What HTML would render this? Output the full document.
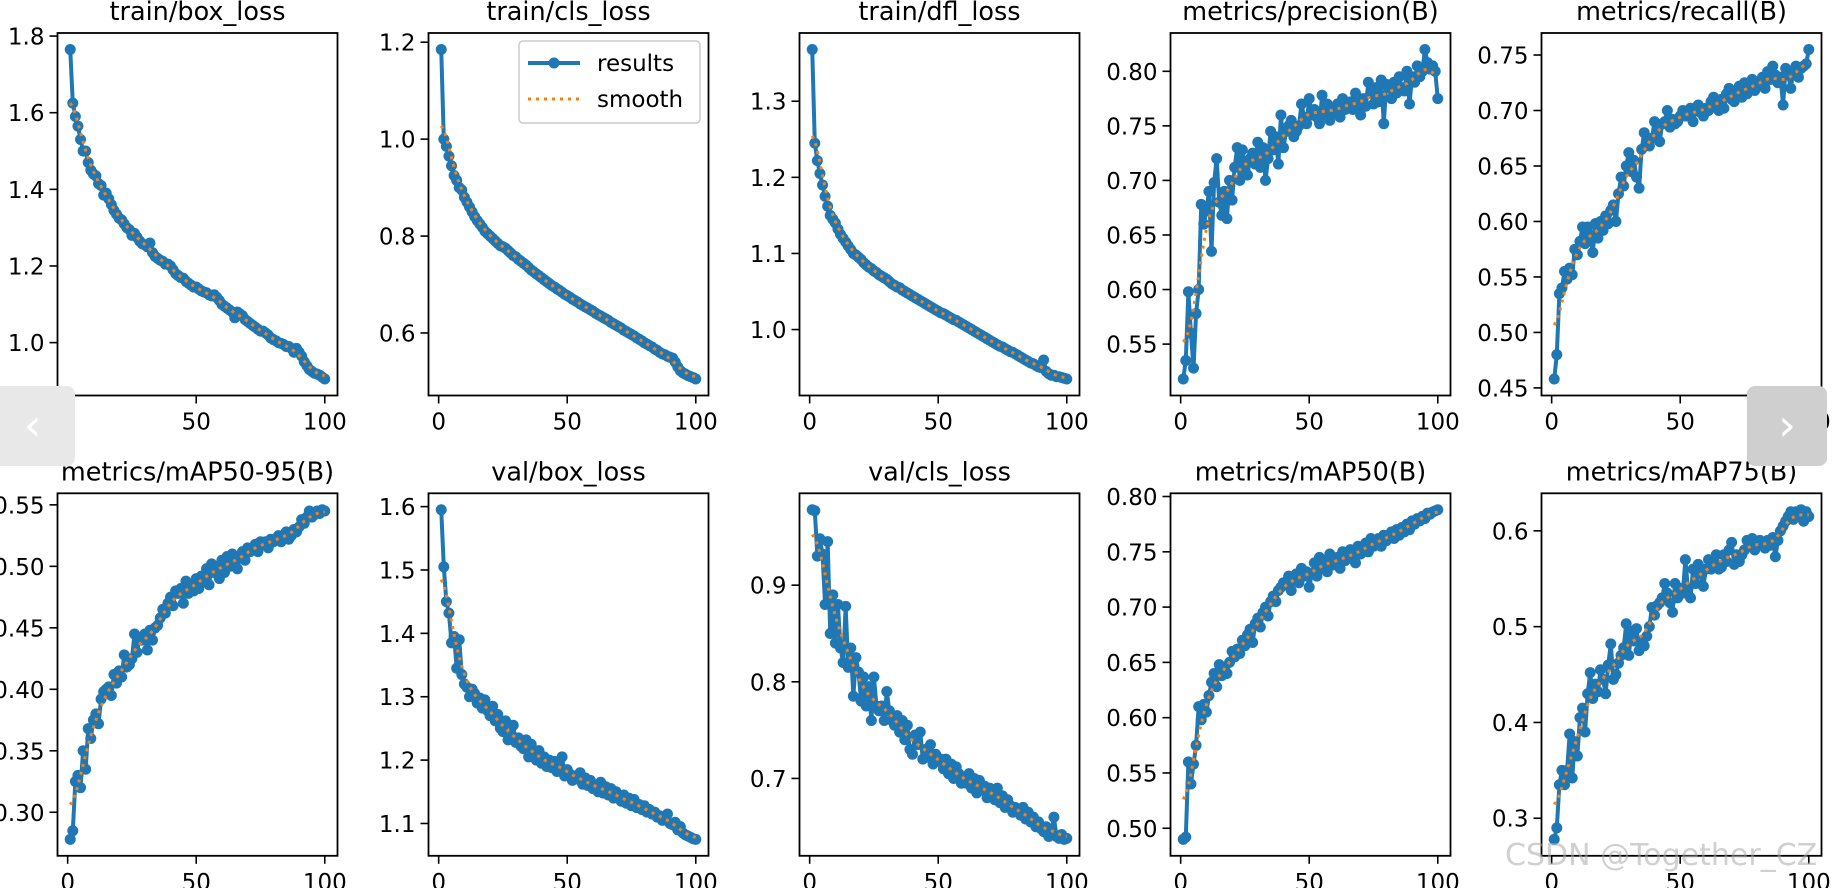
<!DOCTYPE html>
<html><head><meta charset="utf-8"><style>
html,body{margin:0;padding:0;background:#fff;width:1836px;height:888px;overflow:hidden;position:relative}
svg{position:absolute;left:0;top:0}
.nav{position:absolute;border-radius:8px;color:#fff;font:44px "DejaVu Sans",sans-serif;text-align:center;line-height:80px}
.wm{position:absolute;left:1505px;top:838px;font:30px "DejaVu Sans",sans-serif;color:rgba(170,170,170,0.55);white-space:nowrap}
</style></head><body>
<svg id="fig" width="1836" height="888" xmlns="http://www.w3.org/2000/svg"></svg>
<div class="nav" style="left:-10px;top:386px;width:85px;height:80px;background:#e8e8e8">‹</div>
<div class="nav" style="left:1747px;top:386px;width:80px;height:80px;background:#cfcfcf">›</div>
<div class="wm">CSDN @Together_CZ</div>
<script>
const titles=["train/box_loss","train/cls_loss","train/dfl_loss","metrics/precision(B)","metrics/recall(B)","metrics/mAP50-95(B)","val/box_loss","val/cls_loss","metrics/mAP50(B)","metrics/mAP75(B)"];
const xTicks=[0,50,100];
const yTicks=[[1.0,1.2,1.4,1.6,1.8],[0.6,0.8,1.0,1.2],[1.0,1.1,1.2,1.3],[0.55,0.60,0.65,0.70,0.75,0.80],[0.45,0.50,0.55,0.60,0.65,0.70,0.75],[0.30,0.35,0.40,0.45,0.50,0.55],[1.1,1.2,1.3,1.4,1.5,1.6],[0.7,0.8,0.9],[0.50,0.55,0.60,0.65,0.70,0.75,0.80],[0.3,0.4,0.5,0.6]];
const yDecimals=[1,1,1,2,2,2,1,1,2,1];
const trainBox=[1.765,1.625,1.590,1.565,1.530,1.500,1.500,1.470,1.450,1.440,1.435,1.415,1.410,1.385,1.390,1.375,1.360,1.345,1.335,1.325,1.320,1.310,1.300,1.295,1.280,1.285,1.275,1.265,1.258,1.255,1.250,1.260,1.235,1.225,1.220,1.215,1.212,1.205,1.205,1.200,1.190,1.180,1.175,1.170,1.168,1.160,1.155,1.150,1.145,1.145,1.140,1.135,1.132,1.130,1.125,1.122,1.125,1.118,1.110,1.100,1.095,1.090,1.085,1.080,1.065,1.080,1.075,1.070,1.060,1.055,1.050,1.045,1.040,1.035,1.030,1.030,1.025,1.020,1.012,1.008,1.005,1.000,0.998,0.995,0.990,0.990,0.985,0.975,0.985,0.975,0.965,0.950,0.940,0.930,0.925,0.920,0.918,0.915,0.910,0.905];
const trainCls=[1.185,1.000,0.985,0.965,0.945,0.925,0.915,0.900,0.895,0.880,0.870,0.860,0.850,0.840,0.832,0.825,0.818,0.810,0.805,0.800,0.795,0.790,0.785,0.780,0.778,0.775,0.770,0.765,0.760,0.757,0.752,0.748,0.744,0.740,0.735,0.730,0.726,0.722,0.718,0.714,0.710,0.706,0.702,0.698,0.695,0.691,0.688,0.684,0.680,0.677,0.674,0.670,0.667,0.664,0.660,0.657,0.654,0.651,0.648,0.645,0.641,0.638,0.635,0.632,0.629,0.626,0.622,0.619,0.616,0.613,0.610,0.606,0.603,0.600,0.597,0.594,0.590,0.587,0.584,0.580,0.577,0.574,0.571,0.567,0.564,0.560,0.557,0.555,0.552,0.550,0.548,0.540,0.530,0.522,0.518,0.515,0.512,0.510,0.508,0.505];
const trainDfl=[1.368,1.245,1.222,1.205,1.190,1.175,1.162,1.150,1.145,1.140,1.132,1.125,1.120,1.115,1.110,1.105,1.100,1.098,1.095,1.092,1.088,1.085,1.082,1.080,1.077,1.075,1.072,1.070,1.068,1.066,1.063,1.060,1.058,1.056,1.055,1.052,1.050,1.048,1.046,1.044,1.042,1.040,1.038,1.036,1.034,1.032,1.030,1.028,1.026,1.024,1.022,1.021,1.019,1.017,1.015,1.013,1.012,1.010,1.008,1.006,1.004,1.002,1.000,0.998,0.996,0.994,0.992,0.990,0.988,0.986,0.984,0.982,0.980,0.978,0.977,0.975,0.973,0.971,0.970,0.968,0.966,0.964,0.962,0.960,0.958,0.956,0.955,0.953,0.951,0.950,0.960,0.945,0.942,0.940,0.940,0.938,0.938,0.937,0.936,0.935];
const precision=[0.518,0.535,0.598,0.560,0.528,0.578,0.600,0.678,0.660,0.672,0.690,0.635,0.698,0.720,0.680,0.668,0.690,0.665,0.700,0.682,0.712,0.730,0.700,0.728,0.712,0.705,0.720,0.725,0.715,0.735,0.712,0.730,0.700,0.720,0.745,0.728,0.740,0.715,0.760,0.730,0.745,0.750,0.755,0.740,0.745,0.750,0.770,0.758,0.752,0.775,0.760,0.765,0.758,0.752,0.778,0.760,0.770,0.755,0.765,0.762,0.770,0.758,0.775,0.765,0.770,0.772,0.765,0.780,0.770,0.760,0.775,0.768,0.790,0.780,0.770,0.785,0.772,0.792,0.752,0.788,0.785,0.775,0.790,0.780,0.795,0.785,0.782,0.800,0.770,0.795,0.790,0.805,0.795,0.800,0.820,0.808,0.802,0.805,0.800,0.775];
const recall=[0.458,0.480,0.535,0.540,0.555,0.548,0.558,0.552,0.575,0.570,0.582,0.595,0.580,0.595,0.588,0.572,0.598,0.585,0.600,0.592,0.605,0.598,0.610,0.615,0.600,0.625,0.640,0.632,0.650,0.662,0.645,0.655,0.640,0.630,0.665,0.680,0.672,0.668,0.675,0.690,0.680,0.672,0.688,0.690,0.700,0.685,0.692,0.688,0.690,0.695,0.700,0.695,0.698,0.702,0.690,0.700,0.705,0.698,0.695,0.702,0.700,0.708,0.712,0.705,0.700,0.710,0.702,0.715,0.720,0.710,0.708,0.718,0.722,0.712,0.725,0.715,0.720,0.728,0.718,0.722,0.725,0.730,0.720,0.735,0.728,0.740,0.732,0.725,0.730,0.705,0.738,0.732,0.720,0.735,0.740,0.730,0.738,0.740,0.742,0.755];
const map5095=[0.278,0.285,0.325,0.330,0.320,0.350,0.335,0.368,0.360,0.375,0.380,0.372,0.392,0.398,0.400,0.402,0.395,0.412,0.405,0.415,0.410,0.428,0.418,0.420,0.425,0.445,0.430,0.442,0.440,0.445,0.432,0.448,0.440,0.450,0.452,0.458,0.465,0.462,0.470,0.475,0.468,0.480,0.478,0.482,0.470,0.488,0.478,0.485,0.480,0.490,0.482,0.492,0.488,0.498,0.485,0.502,0.495,0.500,0.490,0.505,0.495,0.508,0.500,0.510,0.502,0.498,0.508,0.512,0.505,0.515,0.512,0.515,0.518,0.512,0.520,0.518,0.520,0.515,0.522,0.520,0.522,0.525,0.520,0.525,0.528,0.522,0.525,0.530,0.528,0.532,0.538,0.535,0.540,0.545,0.540,0.542,0.545,0.543,0.546,0.545];
const valBox=[1.595,1.505,1.450,1.432,1.385,1.395,1.345,1.390,1.335,1.320,1.315,1.300,1.312,1.305,1.290,1.298,1.282,1.295,1.278,1.270,1.285,1.262,1.272,1.250,1.245,1.262,1.232,1.240,1.255,1.228,1.235,1.222,1.218,1.232,1.205,1.225,1.212,1.200,1.215,1.195,1.205,1.190,1.200,1.188,1.198,1.182,1.192,1.205,1.175,1.185,1.178,1.168,1.175,1.170,1.180,1.162,1.172,1.160,1.168,1.155,1.160,1.150,1.165,1.148,1.158,1.145,1.155,1.140,1.150,1.142,1.135,1.145,1.132,1.140,1.128,1.138,1.125,1.130,1.122,1.128,1.118,1.122,1.115,1.118,1.110,1.112,1.105,1.108,1.115,1.100,1.098,1.102,1.090,1.095,1.085,1.082,1.080,1.078,1.076,1.075];
const valCls=[0.978,0.977,0.930,0.948,0.932,0.880,0.945,0.850,0.890,0.840,0.880,0.835,0.820,0.878,0.815,0.835,0.785,0.825,0.810,0.780,0.805,0.775,0.795,0.760,0.805,0.775,0.770,0.775,0.760,0.790,0.770,0.760,0.755,0.765,0.748,0.760,0.740,0.755,0.730,0.725,0.745,0.735,0.748,0.720,0.730,0.722,0.735,0.715,0.725,0.718,0.720,0.710,0.720,0.705,0.715,0.700,0.712,0.705,0.695,0.700,0.695,0.705,0.690,0.700,0.685,0.698,0.688,0.692,0.680,0.690,0.685,0.678,0.690,0.675,0.682,0.670,0.678,0.672,0.665,0.670,0.668,0.662,0.670,0.658,0.665,0.655,0.660,0.650,0.655,0.648,0.645,0.650,0.640,0.645,0.660,0.640,0.638,0.642,0.637,0.638];
const map50=[0.490,0.492,0.560,0.540,0.558,0.575,0.610,0.598,0.612,0.605,0.620,0.632,0.640,0.628,0.648,0.638,0.645,0.640,0.650,0.660,0.655,0.662,0.658,0.670,0.665,0.675,0.680,0.668,0.685,0.690,0.682,0.695,0.700,0.692,0.705,0.710,0.705,0.715,0.718,0.722,0.720,0.728,0.715,0.725,0.730,0.722,0.735,0.728,0.732,0.718,0.730,0.740,0.728,0.745,0.735,0.742,0.732,0.748,0.738,0.740,0.745,0.735,0.750,0.742,0.748,0.752,0.745,0.740,0.755,0.748,0.752,0.758,0.750,0.762,0.755,0.758,0.762,0.755,0.765,0.760,0.765,0.768,0.762,0.770,0.765,0.772,0.768,0.775,0.770,0.778,0.775,0.780,0.778,0.782,0.780,0.785,0.784,0.786,0.787,0.788];
const map75=[0.278,0.290,0.335,0.350,0.335,0.350,0.388,0.342,0.380,0.365,0.405,0.415,0.390,0.430,0.452,0.425,0.440,0.432,0.455,0.445,0.430,0.460,0.482,0.445,0.450,0.462,0.470,0.478,0.503,0.470,0.495,0.485,0.498,0.475,0.485,0.480,0.490,0.500,0.520,0.512,0.522,0.525,0.530,0.545,0.535,0.525,0.515,0.545,0.530,0.540,0.535,0.570,0.540,0.530,0.560,0.545,0.565,0.555,0.542,0.560,0.570,0.560,0.565,0.575,0.560,0.562,0.575,0.568,0.580,0.588,0.565,0.575,0.568,0.575,0.580,0.590,0.585,0.592,0.580,0.585,0.590,0.585,0.582,0.590,0.585,0.593,0.573,0.590,0.600,0.605,0.610,0.615,0.620,0.612,0.620,0.618,0.622,0.610,0.620,0.615];
const seriesList=[trainBox,trainCls,trainDfl,precision,recall,map5095,valBox,valCls,map50,map75];

const NS="http://www.w3.org/2000/svg";
const svg=document.getElementById('fig');
function mk(tag,attrs,parent){const e=document.createElementNS(NS,tag);for(const k in attrs)e.setAttribute(k,attrs[k]);(parent||svg).appendChild(e);return e;}
function gauss(y,s){const r=Math.ceil(4*s),w=[];let sum=0;for(let k=-r;k<=r;k++){const v=Math.exp(-k*k/(2*s*s));w.push(v);sum+=v;}
 const n=y.length,out=[];for(let i=0;i<n;i++){let a=0;for(let k=-r;k<=r;k++){let j=i+k;if(j<0)j=-j-1;if(j>=n)j=2*n-j-1;a+=w[k+r]*y[j];}out.push(a/sum);}return out;}
const W=280,H=362.5;
const FONT='DejaVu Sans, Liberation Sans, sans-serif';
seriesList.forEach((ys,i)=>{
 const col=i%5,row=Math.floor(i/5);
 const L=57.5+371*col,T=33+460.3*row;
 const g=mk('g',{});
 
 
 const xs=ys.map((_,k)=>k+1);
 const sm=gauss(ys,3);
 const mn=Math.min(...ys,...sm),mx=Math.max(...ys,...sm),pad=(mx-mn)*0.05;
 const y0=mn-pad,y1=mx+pad;
 const xpad=(100-1)*0.05,x0=1-xpad,x1=100+xpad;
 const X=v=>L+(v-x0)/(x1-x0)*W, Y=v=>T+H-(v-y0)/(y1-y0)*H;
 const cid='clip'+i;
 const cp=mk('clipPath',{id:cid},g);mk('rect',{x:L,y:T,width:W,height:H},cp);
 const line=mk('polyline',{points:xs.map((x,k)=>X(x)+','+Y(ys[k])).join(' '),fill:'none',stroke:'#1f77b4','stroke-width':4,'stroke-linejoin':'round','clip-path':`url(#${cid})`},g);
 
 
 const mg=mk('g',{fill:'#1f77b4','clip-path':`url(#${cid})`},g);
 xs.forEach((x,k)=>{const c=mk('circle',{cx:X(x),cy:Y(ys[k]),r:5.5},mg);
  
  });
 const sl=mk('polyline',{points:xs.map((x,k)=>X(x)+','+Y(sm[k])).join(' '),fill:'none',stroke:'#ff7f0e','stroke-width':3,'stroke-dasharray':'3,5','clip-path':`url(#${cid})`},g);
 
 
 mk('rect',{x:L,y:T,width:W,height:H,fill:'none',stroke:'#000','stroke-width':1.8},g);
 xTicks.forEach(t=>{const px=X(t);mk('line',{x1:px,x2:px,y1:T+H,y2:T+H+8,stroke:'#000','stroke-width':1.6},g);
  const tx=mk('text',{x:px,y:T+H+34,'text-anchor':'middle','font-family':FONT,'font-size':23},g);tx.textContent=t;
  
  });
 yTicks[i].forEach(t=>{const py=Y(t);mk('line',{x1:L-8,x2:L,y1:py,y2:py,stroke:'#000','stroke-width':1.6},g);
  const tx=mk('text',{x:L-13,y:py+8.5,'text-anchor':'end','font-family':FONT,'font-size':23},g);tx.textContent=t.toFixed(yDecimals[i]);
  
  });
 const tt=mk('text',{x:L+W/2,y:T-13,'text-anchor':'middle','font-family':FONT,'font-size':25.5},g);tt.textContent=titles[i];
 
 
});
const lg=mk('g',{});


mk('rect',{x:519,y:41,width:181,height:82,rx:4,fill:'#fff','fill-opacity':0.8,stroke:'#ccc','stroke-width':1.5},lg);
mk('line',{x1:528,x2:580,y1:63,y2:63,stroke:'#1f77b4','stroke-width':4},lg);
mk('circle',{cx:554,cy:63,r:5.5,fill:'#1f77b4'},lg);
mk('line',{x1:528,x2:580,y1:99,y2:99,stroke:'#ff7f0e','stroke-width':3,'stroke-dasharray':'3,5'},lg);
const l1=mk('text',{x:597,y:71,'font-family':FONT,'font-size':23},lg);l1.textContent='results';


const l2=mk('text',{x:597,y:107,'font-family':FONT,'font-size':23},lg);l2.textContent='smooth';


</script>
</body></html>
